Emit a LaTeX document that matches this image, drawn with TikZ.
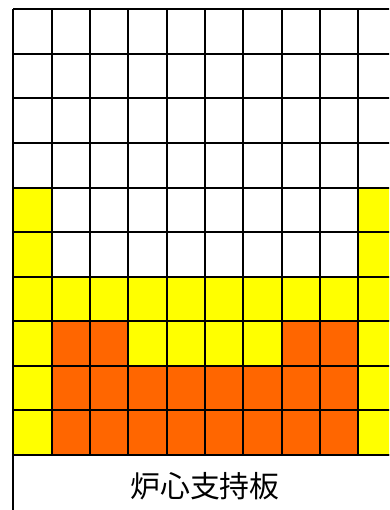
\documentclass[tikz,border=0pt]{standalone}
\usepackage{fontspec}
\newfontfamily\cjk{Noto Sans CJK JP}
\definecolor{cyel}{HTML}{FFFF00}
\definecolor{corg}{HTML}{FF6600}
\begin{document}
\begin{tikzpicture}[x=1bp,y=-1bp,
  gridline/.style={black,line width=2bp},
  yelcell/.style={fill=cyel},
  orgcell/.style={fill=corg}]
\useasboundingbox (0,0) rectangle (389,510);
\clip (0,0) rectangle (389,510);
\def\cw{38.33}
\def\rh{44.57}
\def\xo{13.3}
\def\yo{9.3}
% yellow regions
\fill[yelcell] (\xo,{\yo+4*\rh}) rectangle ({\xo+\cw},{\yo+10*\rh});
\fill[yelcell] ({\xo+9*\cw},{\yo+4*\rh}) rectangle ({\xo+10*\cw},{\yo+10*\rh});
\fill[yelcell] (\xo,{\yo+6*\rh}) rectangle ({\xo+10*\cw},{\yo+7*\rh});
\fill[yelcell] ({\xo+3*\cw},{\yo+7*\rh}) rectangle ({\xo+7*\cw},{\yo+8*\rh});
% orange regions
\fill[orgcell] ({\xo+1*\cw},{\yo+7*\rh}) rectangle ({\xo+3*\cw},{\yo+10*\rh});
\fill[orgcell] ({\xo+7*\cw},{\yo+7*\rh}) rectangle ({\xo+9*\cw},{\yo+10*\rh});
\fill[orgcell] ({\xo+3*\cw},{\yo+8*\rh}) rectangle ({\xo+7*\cw},{\yo+10*\rh});
% grid lines
\foreach \i in {0,...,10}{
  \draw[gridline] ({\xo+\i*\cw},\yo) -- ({\xo+\i*\cw},{\yo+10*\rh});
  \draw[gridline] (\xo,{\yo+\i*\rh}) -- ({\xo+10*\cw},{\yo+\i*\rh});
}
% label box
\draw[gridline] (\xo,{\yo+10*\rh}) rectangle ({\xo+10*\cw},518);
\node[font=\cjk\fontsize{30}{30}\selectfont, inner sep=0pt] (label) at ({\xo+5*\cw},486.5) {炉心支持板};
\end{tikzpicture}
\end{document}
